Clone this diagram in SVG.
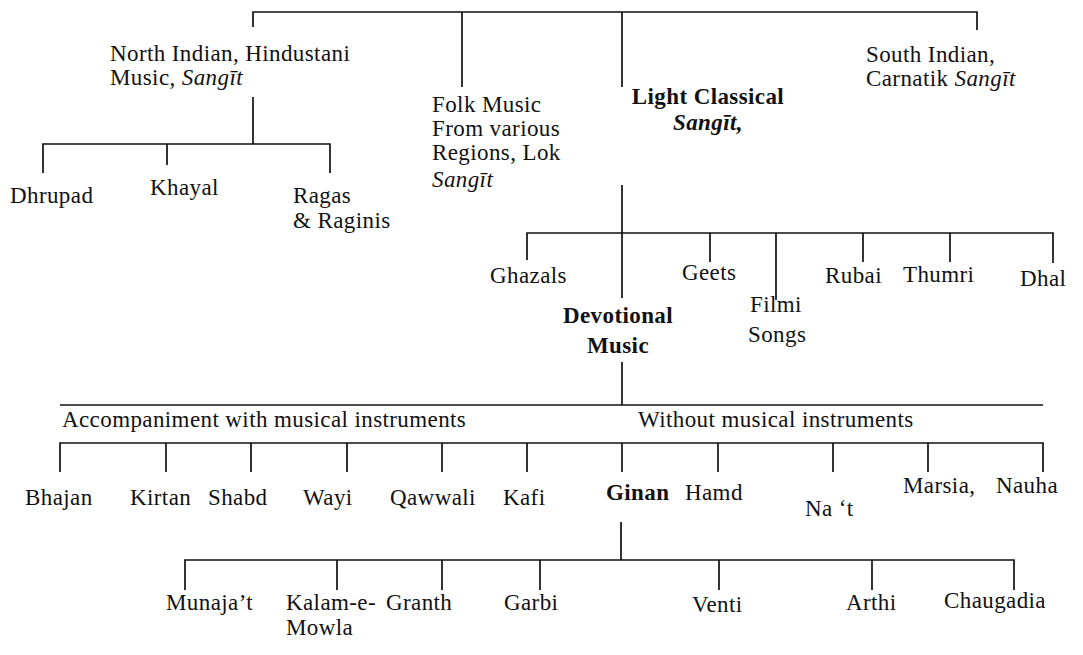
<svg xmlns="http://www.w3.org/2000/svg" width="1083" height="655" viewBox="0 0 1083 655">
<style>
text{font-family:"Liberation Serif","Times New Roman",serif;font-size:23px;letter-spacing:0.4px;fill:#111}
.b{font-weight:bold}
.i{font-style:italic}
.c{text-anchor:middle}
#connectors path{stroke:#111;stroke-width:1.7;fill:none}
</style>
<rect width="1083" height="655" fill="#fff"/>
<g id="connectors">
<path d="M253,27 V12 H977 V30 M462,12 V87 M622,12 V87"/>
<path d="M253,97 V144 M43,173 V144 H330 V173 M167,144 V165"/>
<path d="M622,185 V298 M527,260 V233 H1053 V263 M710,233 V262 M776,233 V300 M863,233 V262 M950,233 V262"/>
<path d="M622,362 V405 M60,405 H1043"/>
<path d="M60,472 V443 H1043 V472 M166,443 V472 M251,443 V472 M347,443 V472 M442,443 V472 M527,443 V472 M622,443 V472 M718,443 V472 M833,443 V472 M928,443 V472"/>
<path d="M621,522 V560 M185,590 V560 H1014 V590 M337,560 V590 M442,560 V590 M540,560 V590 M719,560 V590 M872,560 V590"/>
</g>
<g id="n-north"><text x="110" y="61">North Indian, Hindustani</text><text x="110" y="85">Music, <tspan class="i">Sangīt</tspan></text></g>
<g id="n-folk"><text x="432" y="112">Folk Music</text><text x="432" y="136">From various</text><text x="432" y="160">Regions, Lok</text><text x="432" y="187" class="i">Sangīt</text></g>
<g id="n-light"><text x="708" y="104" class="b c">Light Classical</text><text x="708" y="130" class="b i c">Sangīt,</text></g>
<g id="n-south"><text x="866" y="62">South Indian,</text><text x="866" y="86">Carnatik <tspan class="i">Sangīt</tspan></text></g>
<g id="n-dhrupad"><text x="10" y="203">Dhrupad</text></g>
<g id="n-khayal"><text x="150" y="195">Khayal</text></g>
<g id="n-ragas"><text x="293" y="203">Ragas</text><text x="293" y="228">&amp; Raginis</text></g>
<g id="n-ghazals"><text x="490" y="283">Ghazals</text></g>
<g id="n-geets"><text x="682" y="280">Geets</text></g>
<g id="n-filmi"><text x="750" y="312">Filmi</text><text x="748" y="342">Songs</text></g>
<g id="n-rubai"><text x="825" y="283">Rubai</text></g>
<g id="n-thumri"><text x="903" y="282">Thumri</text></g>
<g id="n-dhal"><text x="1020" y="286">Dhal</text></g>
<g id="n-devotional"><text x="618" y="323" class="b c">Devotional</text><text x="618" y="353" class="b c">Music</text></g>
<g id="n-accomp"><text x="62" y="427">Accompaniment with musical instruments</text></g>
<g id="n-without"><text x="638" y="427">Without musical instruments</text></g>
<g id="n-bhajan"><text x="25" y="505">Bhajan</text></g>
<g id="n-kirtan"><text x="130" y="505">Kirtan</text></g>
<g id="n-shabd"><text x="208" y="505">Shabd</text></g>
<g id="n-wayi"><text x="303" y="505">Wayi</text></g>
<g id="n-qawwali"><text x="390" y="505">Qawwali</text></g>
<g id="n-kafi"><text x="503" y="505">Kafi</text></g>
<g id="n-ginan"><text x="606" y="500" class="b">Ginan</text></g>
<g id="n-hamd"><text x="685" y="500">Hamd</text></g>
<g id="n-nat"><text x="805" y="516">Na ‘t</text></g>
<g id="n-marsia"><text x="903" y="493">Marsia,</text></g>
<g id="n-nauha"><text x="996" y="493">Nauha</text></g>
<g id="n-munajat"><text x="166" y="610">Munaja’t</text></g>
<g id="n-kalam"><text x="286" y="610">Kalam-e-</text><text x="286" y="635">Mowla</text></g>
<g id="n-granth"><text x="386" y="610">Granth</text></g>
<g id="n-garbi"><text x="504" y="610">Garbi</text></g>
<g id="n-venti"><text x="692" y="612">Venti</text></g>
<g id="n-arthi"><text x="846" y="610">Arthi</text></g>
<g id="n-chaugadia"><text x="944" y="608">Chaugadia</text></g>
</svg>
